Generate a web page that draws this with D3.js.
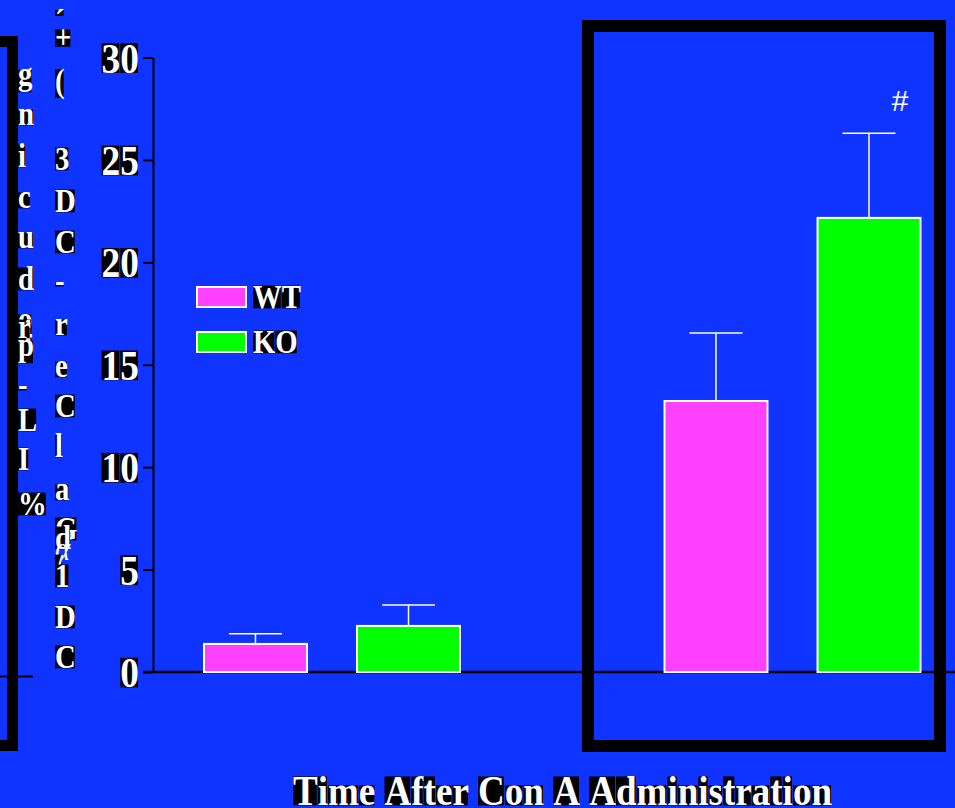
<!DOCTYPE html>
<html>
<head>
<meta charset="utf-8">
<script src="https://cdn.jsdelivr.net/npm/d3@7/dist/d3.min.js"></script>
<style>
  html, body { margin: 0; padding: 0; background: #1034ff; overflow: hidden; }
  svg { display: block; }
</style>
</head>
<body>
<svg width="955" height="808"></svg>
<script>
(() => {
  const timePoints = ["first", "second"];
  const genotypes = ["WT", "KO"];
  const wtValues = [1.37, 13.23];
  const koValues = [2.25, 22.17];
  const wtErrors = [0.5, 3.32];
  const koErrors = [1.02, 4.13];
  const koMarks = ["", "#"];
  const yTicks = [0, 5, 10, 15, 20, 25, 30];
  const xTitle = "Time After Con A Administration";

  const colors = { WT: "#ff40ff", KO: "#00ff00" };
  const serif = "'Liberation Serif', 'Times New Roman', serif";
  const squeeze = 0.87;

  const svg = d3.select("svg");
  const baseY = 672;

  const y = d3.scaleLinear().domain([0, 30]).range([baseY, 57.5]);
  const x0 = d3.scaleBand().domain(timePoints).range([102, 1023]);
  const x1 = d3.scaleBand().domain(genotypes).range([102, 358]).paddingInner(0.327);

  // measure glyph advances once
  const probe = svg.append("text").attr("font-family", serif).attr("font-weight", "bold");
  const advance = (ch, fs) => {
    if (ch === " ") return 0.25 * fs;
    probe.attr("font-size", fs).text(ch);
    return probe.node().getComputedTextLength();
  };

  // ink-ish vertical extent of one glyph, relative to baseline
  const extent = (ch) => {
    if (/[gjpqy]/.test(ch)) return [-0.46, 0.22];
    if (/[acemnorsuvwxzα]/.test(ch)) return [-0.47, 0.01];
    if (ch === "-") return [-0.29, -0.17];
    if (ch === "(" || ch === ")") return [-0.69, 0.18];
    if (ch === "+") return [-0.56, -0.04];
    if (ch === "´") return [-0.70, -0.52];
    return [-0.68, 0.01];
  };

  // draws text glyph by glyph, each on its own black box (as in the source slide)
  const boxedText = (parent, str, x, yPos, fs, anchor, sx) => {
    sx = sx || squeeze;
    const chars = Array.from(str);
    const widths = chars.map((c) => advance(c, fs) * sx);
    const total = d3.sum(widths);
    let cx = anchor === "end" ? x - total : anchor === "middle" ? x - total / 2 : x;
    const g = parent.append("g");
    chars.forEach((c, i) => {
      if (c === " ") {
        cx += widths[i];
        return;
      }
      if (c !== "α") {
        const e = extent(c);
        g.append("rect")
          .attr("x", cx).attr("y", yPos + e[0] * fs)
          .attr("width", Math.max(widths[i] - 1, 2))
          .attr("height", (e[1] - e[0]) * fs)
          .attr("fill", "#000");
      }
      g.append("text")
        .attr("transform", "translate(" + cx + "," + yPos + ") scale(" + sx + ",1)")
        .attr("font-family", serif)
        .attr("font-weight", c === "α" ? "normal" : "bold")
        .attr("font-style", c === "α" ? "italic" : "normal")
        .attr("font-size", fs)
        .attr("fill", "#fff")
        .text(c);
      cx += widths[i];
    });
    return g;
  };

  const view = {
    renderFrames() {
      svg.append("rect")
        .attr("x", -200).attr("y", 41.5).attr("width", 212.5).attr("height", 704)
        .attr("fill", "none").attr("stroke", "#000").attr("stroke-width", 11);
      svg.append("rect")
        .attr("x", 588).attr("y", 26).attr("width", 352).attr("height", 720)
        .attr("fill", "none").attr("stroke", "#000").attr("stroke-width", 12);
      svg.append("line")
        .attr("x1", 0).attr("x2", 33).attr("y1", 676.5).attr("y2", 676.5)
        .attr("stroke", "#000").attr("stroke-width", 2);
    },

    renderYAxis() {
      const axis = svg.append("g")
        .attr("transform", "translate(153,0)")
        .call(d3.axisLeft(y).tickValues(yTicks).tickSize(10).tickSizeOuter(0).tickFormat(""));
      axis.select(".domain").attr("stroke", "#000").attr("stroke-width", 2);
      axis.selectAll(".tick line").attr("stroke", "#000").attr("stroke-width", 2);

      yTicks.forEach((t) => {
        boxedText(svg, String(t), 139, y(t) + 15, 43, "end");
      });
    },

    renderBaseline() {
      svg.append("line")
        .attr("x1", 143).attr("x2", 955).attr("y1", baseY).attr("y2", baseY)
        .attr("stroke", "#000").attr("stroke-width", 2.5);
    },

    renderBars() {
      const rows = [];
      timePoints.forEach((t, i) => {
        rows.push({ t: t, g: "WT", v: wtValues[i], e: wtErrors[i], mark: "" });
        rows.push({ t: t, g: "KO", v: koValues[i], e: koErrors[i], mark: koMarks[i] });
      });
      const bw = x1.bandwidth();

      const bar = svg.selectAll(".bar").data(rows).enter().append("g").attr("class", "bar");

      bar.append("line")
        .attr("x1", (d) => x0(d.t) + x1(d.g) + bw / 2)
        .attr("x2", (d) => x0(d.t) + x1(d.g) + bw / 2)
        .attr("y1", (d) => y(d.v))
        .attr("y2", (d) => y(d.v + d.e))
        .attr("stroke", "#fff").attr("stroke-width", 1.5);
      bar.append("line")
        .attr("x1", (d) => x0(d.t) + x1(d.g) + bw / 2 - 26.5)
        .attr("x2", (d) => x0(d.t) + x1(d.g) + bw / 2 + 26.5)
        .attr("y1", (d) => y(d.v + d.e))
        .attr("y2", (d) => y(d.v + d.e))
        .attr("stroke", "#fff").attr("stroke-width", 1.5);

      bar.append("rect")
        .attr("x", (d) => x0(d.t) + x1(d.g))
        .attr("y", (d) => y(d.v))
        .attr("width", bw)
        .attr("height", (d) => baseY - y(d.v))
        .attr("fill", (d) => colors[d.g])
        .attr("stroke", "#fff").attr("stroke-width", 2);

      bar.filter((d) => d.mark)
        .append("text")
        .attr("x", (d) => x0(d.t) + x1(d.g) + bw / 2 + 31)
        .attr("y", (d) => y(d.v + d.e) - 22)
        .attr("text-anchor", "middle")
        .attr("font-family", "'Liberation Sans', Arial, sans-serif")
        .attr("font-size", 30)
        .attr("fill", "#fff")
        .text((d) => d.mark);
    },

    renderLegend() {
      genotypes.forEach((gt, i) => {
        const top = 287 + i * 45;
        svg.append("rect")
          .attr("x", 197).attr("y", top).attr("width", 49).attr("height", 20)
          .attr("fill", colors[gt]).attr("stroke", "#fff").attr("stroke-width", 2);
        boxedText(svg, gt, 253, top + 21, 33, "start");
      });
    },

    renderYLabel() {
      // the slide's rotated label came through as stacked upright glyphs
      const colA = [["g", 85], ["n", 125], ["i", 167], ["c", 208], ["u", 248], ["d", 290],
        ["o", 330], ["4", 342], ["r", 338], ["p", 356], ["-", 396], ["L", 431], ["I", 470], ["%", 515]];
      const colB = [["´", 33], ["+", 48], ["(", 92], ["3", 170], ["D", 212], ["C", 253], ["-", 292],
        ["r", 335], ["e", 377], ["C", 417], ["l", 457], ["a", 500], ["G", 540], ["d", 549],
        ["α", 560], ["/", 577], ["1", 587], ["D", 628], ["C", 668]];
      colA.forEach((c) => boxedText(svg, c[0], 18, c[1], 33, "start"));
      colB.forEach((c) => boxedText(svg, c[0], 55, c[1], 33, "start"));
    },

    renderXLabel() {
      const fs = 42;
      const natural = d3.sum(Array.from(xTitle), (c) => advance(c, fs));
      boxedText(svg, xTitle, 562.5, 805, fs, "middle", 539 / natural);
    }
  };

  view.renderFrames();
  view.renderBaseline();
  view.renderBars();
  view.renderYAxis();
  view.renderLegend();
  view.renderYLabel();
  view.renderXLabel();
  probe.remove();
})();
</script>
</body>
</html>
